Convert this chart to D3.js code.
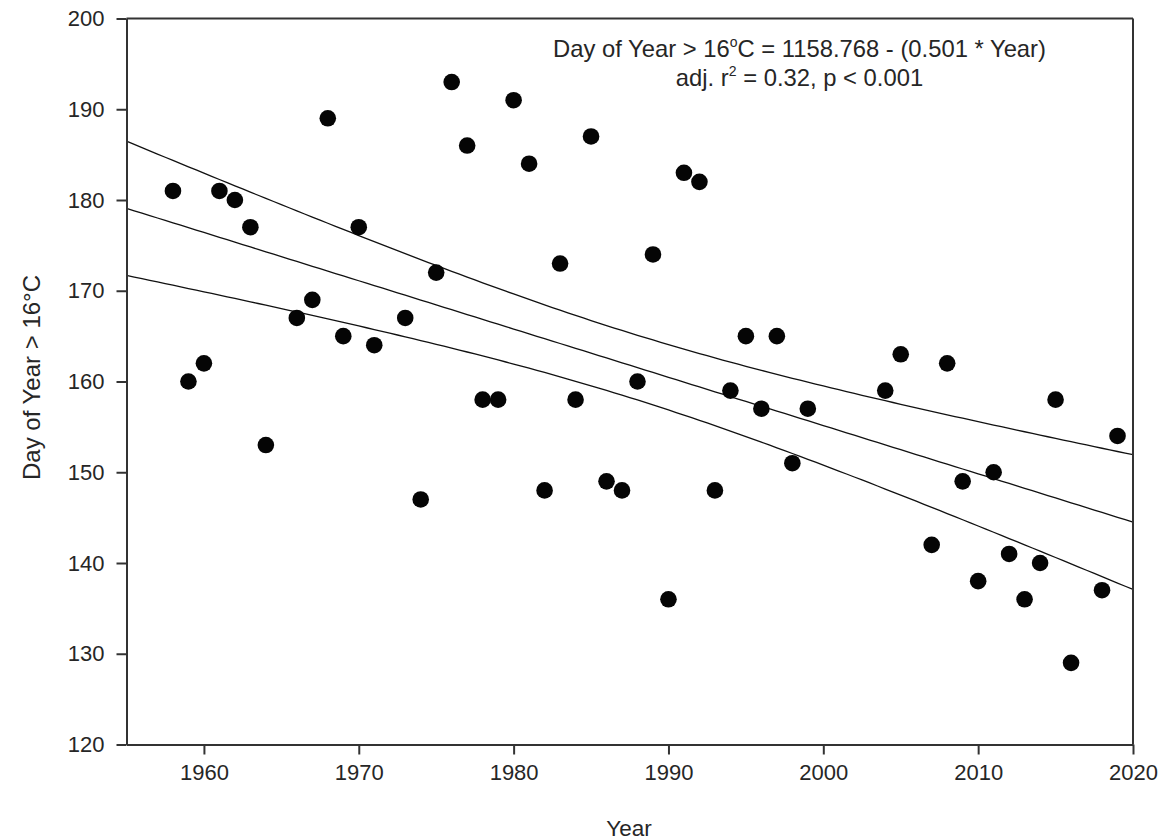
<!DOCTYPE html>
<html>
<head>
<meta charset="utf-8">
<script src="https://cdn.jsdelivr.net/npm/d3@7"></script>
<style>
  html, body { margin: 0; padding: 0; background: #fff; }
  svg { display: block; font-family: "Liberation Sans", Arial, sans-serif; }
</style>
</head>
<body>
<svg id="chart" width="1162" height="840"></svg>
<script>
// ---- data ----
const years = [1958,1959,1960,1961,1962,1963,1964,1966,1967,1968,1969,1970,1971,1973,1974,1975,1976,1977,1978,1979,
               1980,1981,1982,1983,1984,1985,1986,1987,1988,1989,1990,1991,1992,1993,1994,1995,1996,1997,1998,1999,
               2004,2005,2007,2008,2009,2010,2011,2012,2013,2014,2015,2016,2018,2019];
const dayOfYear = [181,160,162,181,180,177,153,167,169,189,165,177,164,167,147,172,193,186,158,158,
                   191,184,148,173,158,187,149,148,160,174,136,183,182,148,159,165,157,165,151,157,
                   159,163,142,162,149,138,150,141,136,140,158,129,137,154];
const xTicks = [1960,1970,1980,1990,2000,2010,2020];
const yTicks = [120,130,140,150,160,170,180,190,200];
const xDomain = [1955, 2020];
const yDomain = [120, 200];
const equationLine1 = ["Day of Year > 16", "o", "C = 1158.768 - (0.501 * Year)"];
const equationLine2 = ["adj. r", "2", " = 0.32, p < 0.001"];
const xTitle = "Year";
const yTitle = "Day of Year > 16°C";

// ---- layout ----
const L = 126.5, R = 1133, T = 18.5, B = 744.5;
const svg = d3.select("#chart");
const x = d3.scaleLinear().domain(xDomain).range([L, R]);
const y = d3.scaleLinear().domain(yDomain).range([B, T]);
const textColor = "#262626";
const axisColor = "#333";

// ---- regression with 95% confidence band ----
const pts = years.map((yr, i) => ({x: yr, y: dayOfYear[i]}));
const n = pts.length;
const mx = d3.mean(pts, d => d.x), my = d3.mean(pts, d => d.y);
const sxx = d3.sum(pts, d => (d.x - mx) ** 2);
const sxy = d3.sum(pts, d => (d.x - mx) * (d.y - my));
const slope = sxy / sxx, intercept = my - slope * mx;
const sse = d3.sum(pts, d => (d.y - (intercept + slope * d.x)) ** 2);
const s = Math.sqrt(sse / (n - 2));
const tval = 2.0066;
const grid = d3.range(xDomain[0], xDomain[1] + 0.001, 0.5);
const fit = grid.map(g => {
  const yh = intercept + slope * g;
  const se = s * Math.sqrt(1 / n + (g - mx) ** 2 / sxx);
  return {x: g, y: yh, lo: yh - tval * se, hi: yh + tval * se};
});

const line = key => d3.line().x(d => x(d.x)).y(d => y(d[key]));
const gLines = svg.append("g");
["hi", "y", "lo"].forEach(k => {
  gLines.append("path").datum(fit).attr("d", line(k))
    .attr("fill", "none").attr("stroke", "#111").attr("stroke-width", 1.3);
});

// ---- points ----
svg.append("g").selectAll("circle").data(pts).join("circle")
  .attr("cx", d => x(d.x)).attr("cy", d => y(d.y)).attr("r", 8.3)
  .attr("fill", "#050505");

// ---- frame ----
svg.append("line").attr("x1", L).attr("x2", R).attr("y1", T).attr("y2", T)
  .attr("stroke", axisColor).attr("stroke-width", 2);
svg.append("line").attr("x1", R).attr("x2", R).attr("y1", T).attr("y2", B)
  .attr("stroke", axisColor).attr("stroke-width", 2);

// ---- axes ----
const xAxis = svg.append("g").attr("transform", `translate(0,${B})`)
  .call(d3.axisBottom(x).tickValues(xTicks).tickFormat(d3.format("d")).tickSize(10).tickSizeOuter(0).tickPadding(10));
const yAxis = svg.append("g").attr("transform", `translate(${L},0)`)
  .call(d3.axisLeft(y).tickValues(yTicks).tickFormat(d3.format("d")).tickSize(10).tickSizeOuter(0).tickPadding(12));
[xAxis, yAxis].forEach(a => {
  a.select(".domain").attr("stroke", axisColor).attr("stroke-width", 2);
  a.selectAll(".tick line").attr("stroke", axisColor).attr("stroke-width", 2);
  a.selectAll(".tick text").attr("fill", textColor)
    .style("font-size", "22px").style("font-family", '"Liberation Sans", Arial, sans-serif');
});

// ---- titles ----
svg.append("text").attr("x", 629).attr("y", 836).attr("text-anchor", "middle")
  .attr("fill", textColor).style("font-size", "22.5px").text(xTitle);
svg.append("text").attr("transform", "translate(39.5,377.5) rotate(-90)").attr("text-anchor", "middle")
  .attr("fill", textColor).style("font-size", "24px").text(yTitle);

// ---- equation ----
function supText(yPos, parts) {
  const t = svg.append("text").attr("x", 799.5).attr("y", yPos).attr("text-anchor", "middle")
    .attr("fill", textColor).style("font-size", "23.8px");
  t.append("tspan").text(parts[0]);
  t.append("tspan").attr("dy", -10).style("font-size", "14px").text(parts[1]);
  t.append("tspan").attr("dy", 10).text(parts[2]);
}
supText(57, equationLine1);
supText(86, equationLine2);
</script>
</body>
</html>
